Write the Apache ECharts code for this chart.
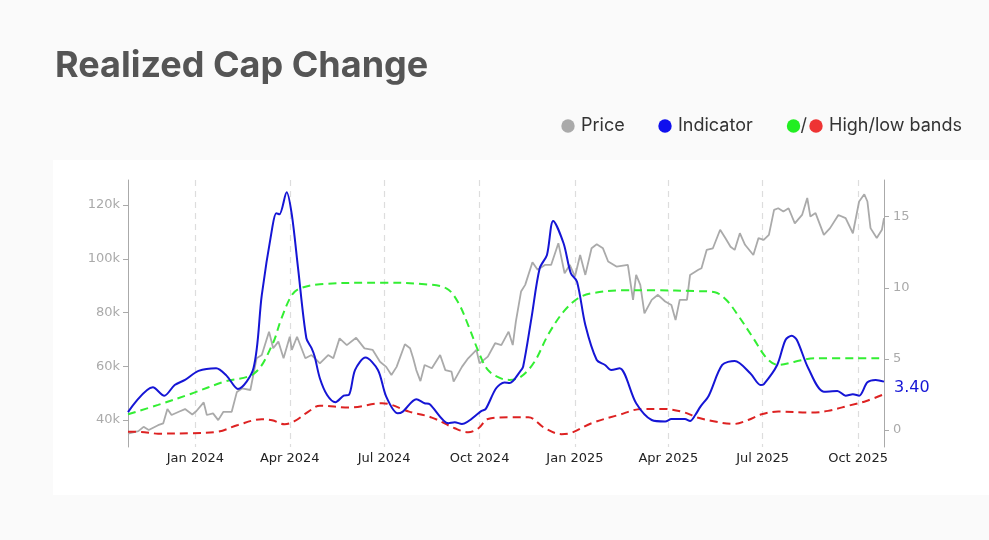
<!DOCTYPE html>
<html>
<head>
<meta charset="utf-8">
<script src="https://cdn.jsdelivr.net/npm/echarts@6/dist/echarts.min.js"></script>
<style>
html,body{margin:0;padding:0;background:#fafafa;}
#c{width:989px;height:540px;}
</style>
</head>
<body>
<div id="c"></div>
<script>
const chartTitle = 'Realized Cap Change';
const tickDates = ['2024-01-01','2024-04-01','2024-07-01','2024-10-01','2025-01-01','2025-04-01','2025-07-01','2025-10-01'];
const monthNames = ['Jan','Feb','Mar','Apr','May','Jun','Jul','Aug','Sep','Oct','Nov','Dec'];
const priceTicks = [40000, 60000, 80000, 100000, 120000];
const indicatorTicks = [0, 5, 10, 15];

const priceDates = ['2023-10-28','2023-11-07','2023-11-12','2023-11-17','2023-11-26','2023-12-01','2023-12-05','2023-12-09','2023-12-16','2023-12-22','2023-12-29','2024-01-02','2024-01-09','2024-01-12','2024-01-18','2024-01-23','2024-01-28','2024-02-05','2024-02-10','2024-02-15','2024-02-23','2024-02-29','2024-03-05','2024-03-12','2024-03-16','2024-03-21','2024-03-26','2024-04-01','2024-04-03','2024-04-08','2024-04-16','2024-04-22','2024-04-27','2024-04-30','2024-05-08','2024-05-13','2024-05-19','2024-05-26','2024-06-04','2024-06-12','2024-06-20','2024-06-27','2024-07-03','2024-07-08','2024-07-13','2024-07-21','2024-07-26','2024-07-29','2024-08-01','2024-08-05','2024-08-09','2024-08-16','2024-08-24','2024-08-29','2024-09-04','2024-09-06','2024-09-14','2024-09-20','2024-09-28','2024-10-01','2024-10-09','2024-10-16','2024-10-22','2024-10-29','2024-11-02','2024-11-05','2024-11-10','2024-11-14','2024-11-21','2024-11-26','2024-12-03','2024-12-09','2024-12-16','2024-12-22','2024-12-27','2025-01-01','2025-01-06','2025-01-11','2025-01-17','2025-01-22','2025-01-28','2025-02-02','2025-02-10','2025-02-21','2025-02-26','2025-03-01','2025-03-05','2025-03-09','2025-03-16','2025-03-22','2025-03-29','2025-04-04','2025-04-08','2025-04-12','2025-04-19','2025-04-22','2025-04-30','2025-05-03','2025-05-08','2025-05-14','2025-05-21','2025-05-26','2025-05-31','2025-06-04','2025-06-09','2025-06-14','2025-06-22','2025-06-27','2025-07-02','2025-07-07','2025-07-12','2025-07-16','2025-07-21','2025-07-26','2025-08-01','2025-08-08','2025-08-13','2025-08-16','2025-08-21','2025-08-29','2025-09-04','2025-09-12','2025-09-19','2025-09-26','2025-10-02','2025-10-07','2025-10-10','2025-10-13','2025-10-19','2025-10-24','2025-10-26'];
const priceValues = [35000,35900,37500,36300,38100,38800,44100,41900,43100,44100,42100,43400,46600,41900,42500,40000,43100,43100,50500,51800,51200,63000,64200,72900,66700,69200,63000,71000,66100,71000,63000,64200,62300,61100,64200,63000,70400,67900,70600,66700,66100,61700,59800,56800,59800,68200,66700,63000,58600,54500,60500,59300,64200,58600,58000,54300,59800,63000,66100,61100,63600,68600,67900,72900,67900,76600,87800,90300,98700,95900,97700,97700,105800,94600,97700,93400,101400,94000,103900,105400,103900,99000,97100,97700,84700,94000,90300,79700,84700,86600,84100,82800,77200,84700,84700,94000,95900,96500,103300,103900,110800,107700,104500,103300,109500,105200,101400,107700,107000,108900,118200,118800,117600,118800,113200,116300,122600,115700,117000,108900,111400,116300,115100,109500,121300,124000,121300,111400,107700,110800,115100];

const indicatorDates = ['2023-10-28','2023-11-21','2023-12-02','2023-12-12','2023-12-22','2024-01-04','2024-01-21','2024-01-31','2024-02-11','2024-02-26','2024-03-05','2024-03-15','2024-03-19','2024-03-22','2024-03-29','2024-04-03','2024-04-09','2024-04-17','2024-04-22','2024-04-25','2024-04-30','2024-05-07','2024-05-15','2024-05-23','2024-05-28','2024-06-03','2024-06-13','2024-06-25','2024-07-03','2024-07-14','2024-07-19','2024-08-01','2024-08-09','2024-08-14','2024-09-01','2024-09-07','2024-09-14','2024-10-03','2024-10-07','2024-10-17','2024-10-25','2024-10-30','2024-11-09','2024-11-12','2024-11-20','2024-11-28','2024-12-05','2024-12-11','2024-12-21','2024-12-28','2025-01-03','2025-01-11','2025-01-22','2025-01-30','2025-02-05','2025-02-13','2025-03-01','2025-03-16','2025-03-29','2025-04-04','2025-04-17','2025-04-22','2025-04-27','2025-05-02','2025-05-10','2025-05-23','2025-06-04','2025-06-19','2025-06-29','2025-07-02','2025-07-15','2025-07-23','2025-07-29','2025-08-03','2025-08-14','2025-08-29','2025-09-11','2025-09-19','2025-09-26','2025-10-02','2025-10-10','2025-10-18','2025-10-26'];
const indicatorValues = [1.25,3.0,2.41,3.16,3.52,4.15,4.34,3.82,2.88,4.34,9.49,14.18,15.24,15.17,16.72,15.12,11.37,6.45,5.75,5.16,3.64,2.46,1.95,2.41,2.46,4.22,5.09,4.22,2.34,1.17,1.29,2.16,1.88,1.81,0.47,0.54,0.42,1.34,1.48,2.93,3.33,3.3,4.10,4.45,7.85,11.37,12.31,14.70,13.13,11.02,10.43,7.38,4.92,4.57,4.22,4.34,1.88,0.70,0.59,0.77,0.77,0.63,1.05,1.64,2.41,4.57,4.85,3.99,3.16,3.21,4.57,6.33,6.63,6.33,4.34,2.69,2.74,2.41,2.51,2.41,3.35,3.52,3.40];

const highDates = ['2023-10-28','2023-11-26','2023-12-28','2024-01-29','2024-02-27','2024-03-15','2024-03-24','2024-04-03','2024-04-11','2024-04-30','2024-06-29','2024-08-09','2024-08-30','2024-09-10','2024-09-20','2024-09-30','2024-10-09','2024-10-21','2024-10-30','2024-11-10','2024-11-23','2024-12-06','2024-12-21','2025-01-04','2025-01-17','2025-02-15','2025-03-19','2025-04-27','2025-05-16','2025-05-27','2025-06-07','2025-06-22','2025-07-05','2025-07-16','2025-08-01','2025-08-20','2025-10-26'];
const highValues = [1.10,1.76,2.55,3.40,3.99,5.98,7.85,9.49,9.96,10.25,10.36,10.25,9.96,9.02,7.38,5.51,4.22,3.64,3.52,3.75,4.80,6.68,8.32,9.26,9.61,9.82,9.82,9.77,9.68,9.14,8.09,6.45,5.04,4.57,4.80,5.04,5.04];

const lowDates = ['2023-10-28','2023-11-13','2023-11-26','2023-12-28','2024-01-23','2024-02-11','2024-03-05','2024-03-15','2024-03-27','2024-04-06','2024-04-19','2024-04-30','2024-05-28','2024-06-29','2024-07-25','2024-08-16','2024-09-07','2024-09-20','2024-09-30','2024-10-09','2024-10-30','2024-11-17','2024-12-03','2024-12-19','2024-12-29','2025-01-17','2025-02-12','2025-03-07','2025-03-26','2025-04-14','2025-04-29','2025-05-16','2025-06-03','2025-06-17','2025-06-30','2025-07-16','2025-08-17','2025-09-02','2025-09-22','2025-10-09','2025-10-26'];
const lowValues = [-0.12,-0.16,-0.26,-0.23,-0.12,0.35,0.75,0.68,0.40,0.63,1.29,1.71,1.57,1.88,1.29,0.87,0.12,-0.16,0.12,0.77,0.89,0.89,0.12,-0.30,-0.19,0.47,1.05,1.48,1.48,1.29,0.88,0.59,0.42,0.70,1.10,1.29,1.22,1.34,1.71,2.04,2.51];

function parseDay(s){ const p = s.split('-').map(Number); return new Date(p[0], p[1]-1, p[2]).getTime(); }
function zip(ds, vs){ return ds.map((d,i)=>[parseDay(d), vs[i]]); }

const chart = echarts.init(document.getElementById('c'), null, {renderer:'canvas'});
const axisFont = 'DejaVu Sans, Verdana, sans-serif';
const uiFont = 'Inter, Noto Sans, sans-serif';
const xTicks = tickDates.map(parseDay);

const option = {
  backgroundColor: '#fafafa',
  animation: false,
  grid: {left:128, right:105, top:180, bottom:93, containLabel:false},
  graphic: [
    {type:'rect', z:-10, silent:true, shape:{x:53, y:160, width:936, height:335}, style:{fill:'#ffffff'}},
    {type:'text', left:55, top:48, style:{text:chartTitle, font:'bold 36px '+uiFont, fill:'#555555'}},
    {type:'circle', shape:{cx:568, cy:126, r:6.7}, style:{fill:'#aaaaaa'}},
    {type:'text', x:581, y:126, style:{text:'Price', font:'18px '+uiFont, fill:'#333333', textVerticalAlign:'middle'}},
    {type:'circle', shape:{cx:665, cy:126, r:6.7}, style:{fill:'#1010ee'}},
    {type:'text', x:678, y:126, style:{text:'Indicator', font:'18px '+uiFont, fill:'#333333', textVerticalAlign:'middle'}},
    {type:'circle', shape:{cx:793.5, cy:126, r:6.7}, style:{fill:'#22ee22'}},
    {type:'text', x:800.5, y:126, style:{text:'/', font:'18px '+uiFont, fill:'#333333', textVerticalAlign:'middle'}},
    {type:'circle', shape:{cx:816, cy:126, r:6.7}, style:{fill:'#ee3333'}},
    {type:'text', x:829, y:126, style:{text:'High/low bands', font:'18px '+uiFont, fill:'#333333', textVerticalAlign:'middle'}}
  ],
  xAxis: {
    type:'value',
    min: parseDay('2023-10-28'),
    max: parseDay('2025-10-26'),
    axisLine:{show:false},
    axisTick:{show:false, customValues: xTicks},
    splitLine:{show:true, lineStyle:{color:'#dddddd', type:[6,5], width:1.2}},
    axisLabel:{
      customValues: xTicks,
      formatter: v => { const d = new Date(v); return monthNames[d.getMonth()] + ' ' + d.getFullYear(); },
      color:'#222222', fontFamily: axisFont, fontSize:13, margin:5
    }
  },
  yAxis: [
    {
      type:'value', position:'left', min:30000, max:129300,
      axisLine:{show:true, lineStyle:{color:'#aaaaaa', width:1}},
      axisTick:{show:true, length:5, lineStyle:{color:'#aaaaaa'}, customValues: priceTicks},
      axisLabel:{customValues: priceTicks, formatter: v => (v/1000) + 'k', color:'#aaaaaa', fontFamily: axisFont, fontSize:13, margin:8},
      splitLine:{show:false}
    },
    {
      type:'value', position:'right', min:-1.2, max:17.58,
      axisLine:{show:true, lineStyle:{color:'#aaaaaa', width:1}},
      axisTick:{show:true, length:5, lineStyle:{color:'#aaaaaa'}, customValues: indicatorTicks},
      axisLabel:{customValues: indicatorTicks, color:'#aaaaaa', fontFamily: axisFont, fontSize:13, margin:9},
      splitLine:{show:false}
    }
  ],
  series: [
    {name:'Price', type:'line', yAxisIndex:0, data: zip(priceDates, priceValues), showSymbol:false,
     lineStyle:{color:'#aaaaaa', width:1.8}, itemStyle:{color:'#aaaaaa'}, z:2},
    {name:'High band', type:'line', yAxisIndex:1, data: zip(highDates, highValues), showSymbol:false, smooth:0.35,
     lineStyle:{color:'#33ee33', width:2, type:[8,5]}, itemStyle:{color:'#33ee33'}, z:3},
    {name:'Low band', type:'line', yAxisIndex:1, data: zip(lowDates, lowValues), showSymbol:false, smooth:0.35,
     lineStyle:{color:'#dd2222', width:2, type:[8,5]}, itemStyle:{color:'#dd2222'}, z:3},
    {name:'Indicator', type:'line', yAxisIndex:1, data: zip(indicatorDates, indicatorValues), showSymbol:false, smooth:0.3,
     lineStyle:{color:'#1515d5', width:2}, itemStyle:{color:'#1515d5'}, z:4,
     endLabel:{show:true, formatter: p => p.value[1].toFixed(2), color:'#1515d5', fontFamily: axisFont, fontSize:16, distance:10, offset:[0,6]}}
  ]
};
chart.setOption(option);
</script>
</body>
</html>
